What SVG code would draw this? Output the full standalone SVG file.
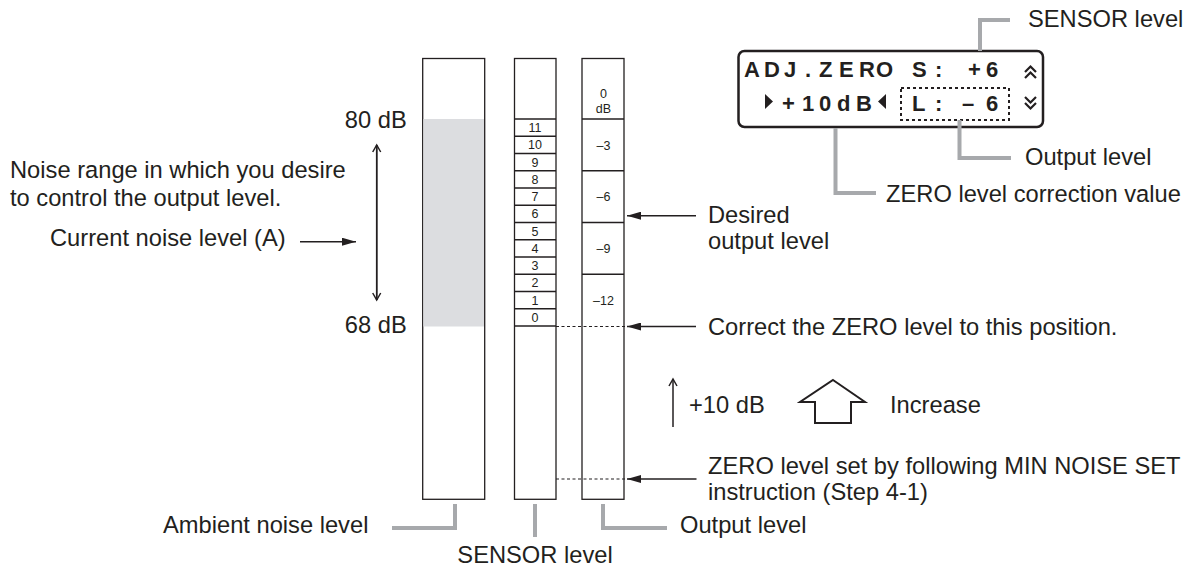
<svg xmlns="http://www.w3.org/2000/svg" width="1195" height="570" viewBox="0 0 1195 570">
<style>
.t{font-family:"Liberation Sans",Arial,sans-serif;font-size:23.7px;fill:#231f20}
.s{font-family:"Liberation Sans",Arial,sans-serif;font-size:12.5px;fill:#231f20;text-anchor:middle}
.lcd{font-family:"Liberation Sans",Arial,sans-serif;font-size:22px;font-weight:bold;fill:#231f20}
.bar{fill:#fff;stroke:#231f20;stroke-width:1.3}
.ln{stroke:#231f20;stroke-width:1.3;fill:none}
.dash{stroke:#231f20;stroke-width:1.2;stroke-dasharray:3 2.5;fill:none}
.lead{stroke:#a7a9ac;stroke-width:4;fill:none}
.arr{stroke:#231f20;stroke-width:1.5;fill:none}
.chev{fill:none;stroke:#231f20;stroke-width:2.2}
</style>
<defs>
<marker id="fh" markerWidth="14" markerHeight="8" refX="14" refY="4" orient="auto" markerUnits="userSpaceOnUse">
<path d="M0,0 L14,4 L0,8 Z" fill="#231f20"/>
</marker>
<marker id="oh" markerWidth="10" markerHeight="10" refX="8" refY="5" orient="auto" markerUnits="userSpaceOnUse">
<path d="M1,1 L8,5 L1,9" fill="none" stroke="#231f20" stroke-width="1.5"/>
</marker>
</defs>

<g id="ambient-bar">
<rect class="bar" x="422.7" y="58.5" width="62" height="440.8"/>
<rect x="423.4" y="119" width="60.6" height="207.5" fill="#dcdde0"/>
</g>

<g id="sensor-bar">
<rect class="bar" x="514.5" y="58.5" width="41.5" height="440.8"/>
<g class="ln">
<line x1="514.5" y1="119" x2="556" y2="119"/>
<line x1="514.5" y1="136.25" x2="556" y2="136.25"/>
<line x1="514.5" y1="153.5" x2="556" y2="153.5"/>
<line x1="514.5" y1="170.75" x2="556" y2="170.75"/>
<line x1="514.5" y1="188" x2="556" y2="188"/>
<line x1="514.5" y1="205.25" x2="556" y2="205.25"/>
<line x1="514.5" y1="222.5" x2="556" y2="222.5"/>
<line x1="514.5" y1="239.75" x2="556" y2="239.75"/>
<line x1="514.5" y1="257" x2="556" y2="257"/>
<line x1="514.5" y1="274.25" x2="556" y2="274.25"/>
<line x1="514.5" y1="291.5" x2="556" y2="291.5"/>
<line x1="514.5" y1="308.75" x2="556" y2="308.75"/>
<line x1="514.5" y1="326" x2="556" y2="326"/>
</g>
<text class="s" x="535" y="132.2">11</text>
<text class="s" x="535" y="149.4">10</text>
<text class="s" x="535" y="166.7">9</text>
<text class="s" x="535" y="183.9">8</text>
<text class="s" x="535" y="201.2">7</text>
<text class="s" x="535" y="218.4">6</text>
<text class="s" x="535" y="235.7">5</text>
<text class="s" x="535" y="252.9">4</text>
<text class="s" x="535" y="270.2">3</text>
<text class="s" x="535" y="287.4">2</text>
<text class="s" x="535" y="304.7">1</text>
<text class="s" x="535" y="321.9">0</text>
</g>

<g id="output-bar">
<rect class="bar" x="582" y="58.5" width="42" height="440.8"/>
<g class="ln">
<line x1="582" y1="119" x2="624" y2="119"/>
<line x1="582" y1="170.75" x2="624" y2="170.75"/>
<line x1="582" y1="222.5" x2="624" y2="222.5"/>
<line x1="582" y1="274.25" x2="624" y2="274.25"/>
</g>
<text class="s" x="603.5" y="98">0</text>
<text class="s" x="603.5" y="113">dB</text>
<text class="s" x="603.5" y="149.5">–3</text>
<text class="s" x="603.5" y="201">–6</text>
<text class="s" x="603.5" y="253">–9</text>
<text class="s" x="603.5" y="304.5">–12</text>
</g>

<g id="lcd">
<rect x="738.5" y="51" width="304.5" height="76" rx="6" fill="#fff" stroke="#231f20" stroke-width="2.5"/>
<text class="lcd" x="744 764 784 805 819 839 859 876" y="76.5">ADJ.ZERO</text>
<text class="lcd" x="912 935" y="76.5">S:</text>
<text class="lcd" x="968 986" y="76.5">+6</text>
<polygon points="765,94 773,101.5 765,109" fill="#231f20"/>
<text class="lcd" x="782 802 819 837 856" y="110.5">+10dB</text>
<polygon points="886,94 878,101.5 886,109" fill="#231f20"/>
<rect x="901" y="88" width="108" height="32" fill="none" stroke="#231f20" stroke-width="2" stroke-dasharray="3 3"/>
<text class="lcd" x="912 935" y="110.5">L:</text>
<text class="lcd" x="962 986" y="110.5">–6</text>
<polyline class="chev" points="1025,72 1030.5,66.5 1036,72"/>
<polyline class="chev" points="1025,78 1030.5,72.5 1036,78"/>
<polyline class="chev" points="1025,97 1030.5,102.5 1036,97"/>
<polyline class="chev" points="1025,103 1030.5,108.5 1036,103"/>
</g>

<g id="connectors">
<polyline class="lead" points="980,51 980,20 1010,20"/>
<polyline class="lead" points="835.5,128 835.5,193 876,193"/>
<polyline class="lead" points="959.5,120 959.5,158 1011,158"/>
<polyline class="lead" points="455,504 455,528 392,528"/>
<line class="lead" x1="535" y1="504" x2="535" y2="537"/>
<polyline class="lead" points="603,504 603,528 667,528"/>
<line class="arr" x1="376.7" y1="300" x2="376.7" y2="145" marker-end="url(#oh)"/>
<line class="arr" x1="376.7" y1="145" x2="376.7" y2="300" marker-end="url(#oh)"/>
<line class="arr" x1="300" y1="241.7" x2="356" y2="241.7" marker-end="url(#fh)"/>
<line class="arr" x1="696" y1="215.7" x2="627" y2="215.7" marker-end="url(#fh)"/>
<line class="dash" x1="556" y1="326.5" x2="627" y2="326.5"/>
<line class="arr" x1="696" y1="326.5" x2="627" y2="326.5" marker-end="url(#fh)"/>
<line class="dash" x1="556" y1="479" x2="627" y2="479"/>
<line class="arr" x1="696.5" y1="479" x2="627" y2="479" marker-end="url(#fh)"/>
<line class="arr" x1="673" y1="427" x2="673" y2="379" marker-end="url(#oh)"/>
<polygon points="833,380 865,402 851,402 851,423 815,423 815,402 800,402" fill="#fff" stroke="#231f20" stroke-width="2"/>
</g>

<g id="labels">
<text class="t" x="406.7" y="128" text-anchor="end">80 dB</text>
<text class="t" x="406.7" y="333" text-anchor="end">68 dB</text>
<text class="t" x="10" y="178">Noise range in which you desire</text>
<text class="t" x="10" y="206">to control the output level.</text>
<text class="t" x="50" y="246">Current noise level (A)</text>
<text class="t" x="708" y="223">Desired</text>
<text class="t" x="708" y="249">output level</text>
<text class="t" x="708" y="335">Correct the ZERO level to this position.</text>
<text class="t" x="689" y="413">+10 dB</text>
<text class="t" x="890" y="413">Increase</text>
<text class="t" x="708" y="474">ZERO level set by following MIN NOISE SET</text>
<text class="t" x="708" y="500">instruction (Step 4-1)</text>
<text class="t" x="163" y="533">Ambient noise level</text>
<text class="t" x="535" y="563" text-anchor="middle">SENSOR level</text>
<text class="t" x="680" y="533">Output level</text>
<text class="t" x="1028" y="27">SENSOR level</text>
<text class="t" x="1025" y="165">Output level</text>
<text class="t" x="886" y="202">ZERO level correction value</text>
</g>
</svg>
